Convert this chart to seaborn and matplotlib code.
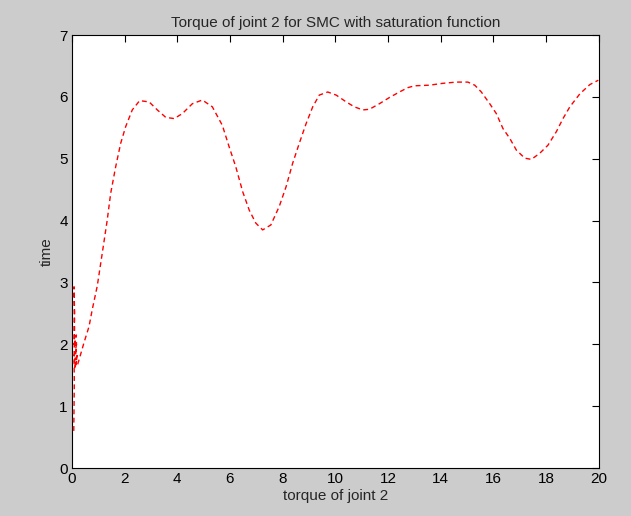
import matplotlib
matplotlib.use("Agg")
import matplotlib.pyplot as plt
import seaborn as sns
import pandas as pd
from matplotlib import font_manager

# Data
torque = [0.07, 0.08, 0.09, 0.08, 0.10, 0.09, 0.08, 0.10, 0.08, 0.09,
          0.17, 0.07, 0.20, 0.08, 0.18, 0.09, 0.22, 0.10, 0.19, 0.12, 0.22,
          0.27, 0.46, 0.65, 0.77, 0.96, 1.15, 1.34, 1.47, 1.66, 1.85,
          2.04, 2.29, 2.57, 2.93, 3.24, 3.56, 3.88, 4.19, 4.57, 4.95,
          5.33, 5.71, 5.97, 6.22, 6.48, 6.73, 6.98, 7.24, 7.55, 7.87,
          8.13, 8.38, 8.63, 8.89, 9.14, 9.39, 9.71, 10.03, 10.41, 10.72,
          11.04, 11.29, 11.67, 12.05, 12.43, 12.75, 13.0, 13.57, 14.08, 14.59,
          15.03, 15.29, 15.54, 15.86, 16.11, 16.36, 16.62, 16.87, 17.19, 17.44,
          17.76, 18.07, 18.39, 18.64, 18.9, 19.28, 19.66, 19.98]
time = [0.60, 1.00, 1.40, 1.80, 2.20, 2.60, 2.93, 2.50, 2.20, 2.00,
        2.15, 1.95, 2.05, 1.80, 1.95, 1.70, 1.85, 1.60, 1.75, 1.65, 1.68,
        1.75, 2.03, 2.29, 2.56, 2.94, 3.47, 4.01, 4.44, 4.87, 5.25,
        5.52, 5.79, 5.94, 5.92, 5.79, 5.67, 5.65, 5.73, 5.89, 5.95,
        5.84, 5.54, 5.19, 4.87, 4.47, 4.17, 3.96, 3.85, 3.93, 4.23,
        4.55, 4.93, 5.25, 5.57, 5.84, 6.03, 6.08, 6.03, 5.92, 5.84,
        5.79, 5.80, 5.89, 5.99, 6.08, 6.15, 6.18, 6.19, 6.22, 6.24,
        6.24, 6.19, 6.08, 5.89, 5.73, 5.49, 5.33, 5.14, 5.01, 4.99,
        5.09, 5.22, 5.44, 5.65, 5.84, 6.05, 6.20, 6.27]

x_ticks = [0, 2, 4, 6, 8, 10, 12, 14, 16, 18, 20]
y_ticks = [0, 1, 2, 3, 4, 5, 6, 7]

sns.set_style("white")
names = {f.name for f in font_manager.fontManager.ttflist}
fam = "Liberation Sans Narrow" if "Liberation Sans Narrow" in names else "Liberation Sans"
plt.rcParams["font.family"] = [fam, "DejaVu Sans"]

fig = plt.figure(figsize=(6.31, 5.16), dpi=100, facecolor="#cccccc")
ax = fig.add_axes([0.114, 0.093, 0.835, 0.839])
ax.set_facecolor("white")

df = pd.DataFrame({"torque": torque, "time": time})
sns.lineplot(data=df, x="torque", y="time", sort=False, estimator=None,
             color="red", linewidth=1.0, dashes=False, ax=ax)
ax.lines[0].set_dashes([3.5, 2.5])

ax.set_xlim(0, 20)
ax.set_ylim(0, 7)
ax.set_xticks(x_ticks)
ax.set_yticks(y_ticks)
ax.tick_params(direction="in", length=5, width=0.8, labelsize=11,
               top=True, right=True, colors="black", pad=3)
for s in ax.spines.values():
    s.set_visible(True)
    s.set_color("black")
    s.set_linewidth(0.8)
    s.set_zorder(1)
ax.set_xlabel("torque of joint 2", fontsize=11, labelpad=2)
ax.set_ylabel("time", fontsize=11, labelpad=4)
ax.set_title("Torque of joint 2 for SMC with saturation function", fontsize=11, pad=6)

fig.savefig("out.png", dpi=100, facecolor=fig.get_facecolor())
